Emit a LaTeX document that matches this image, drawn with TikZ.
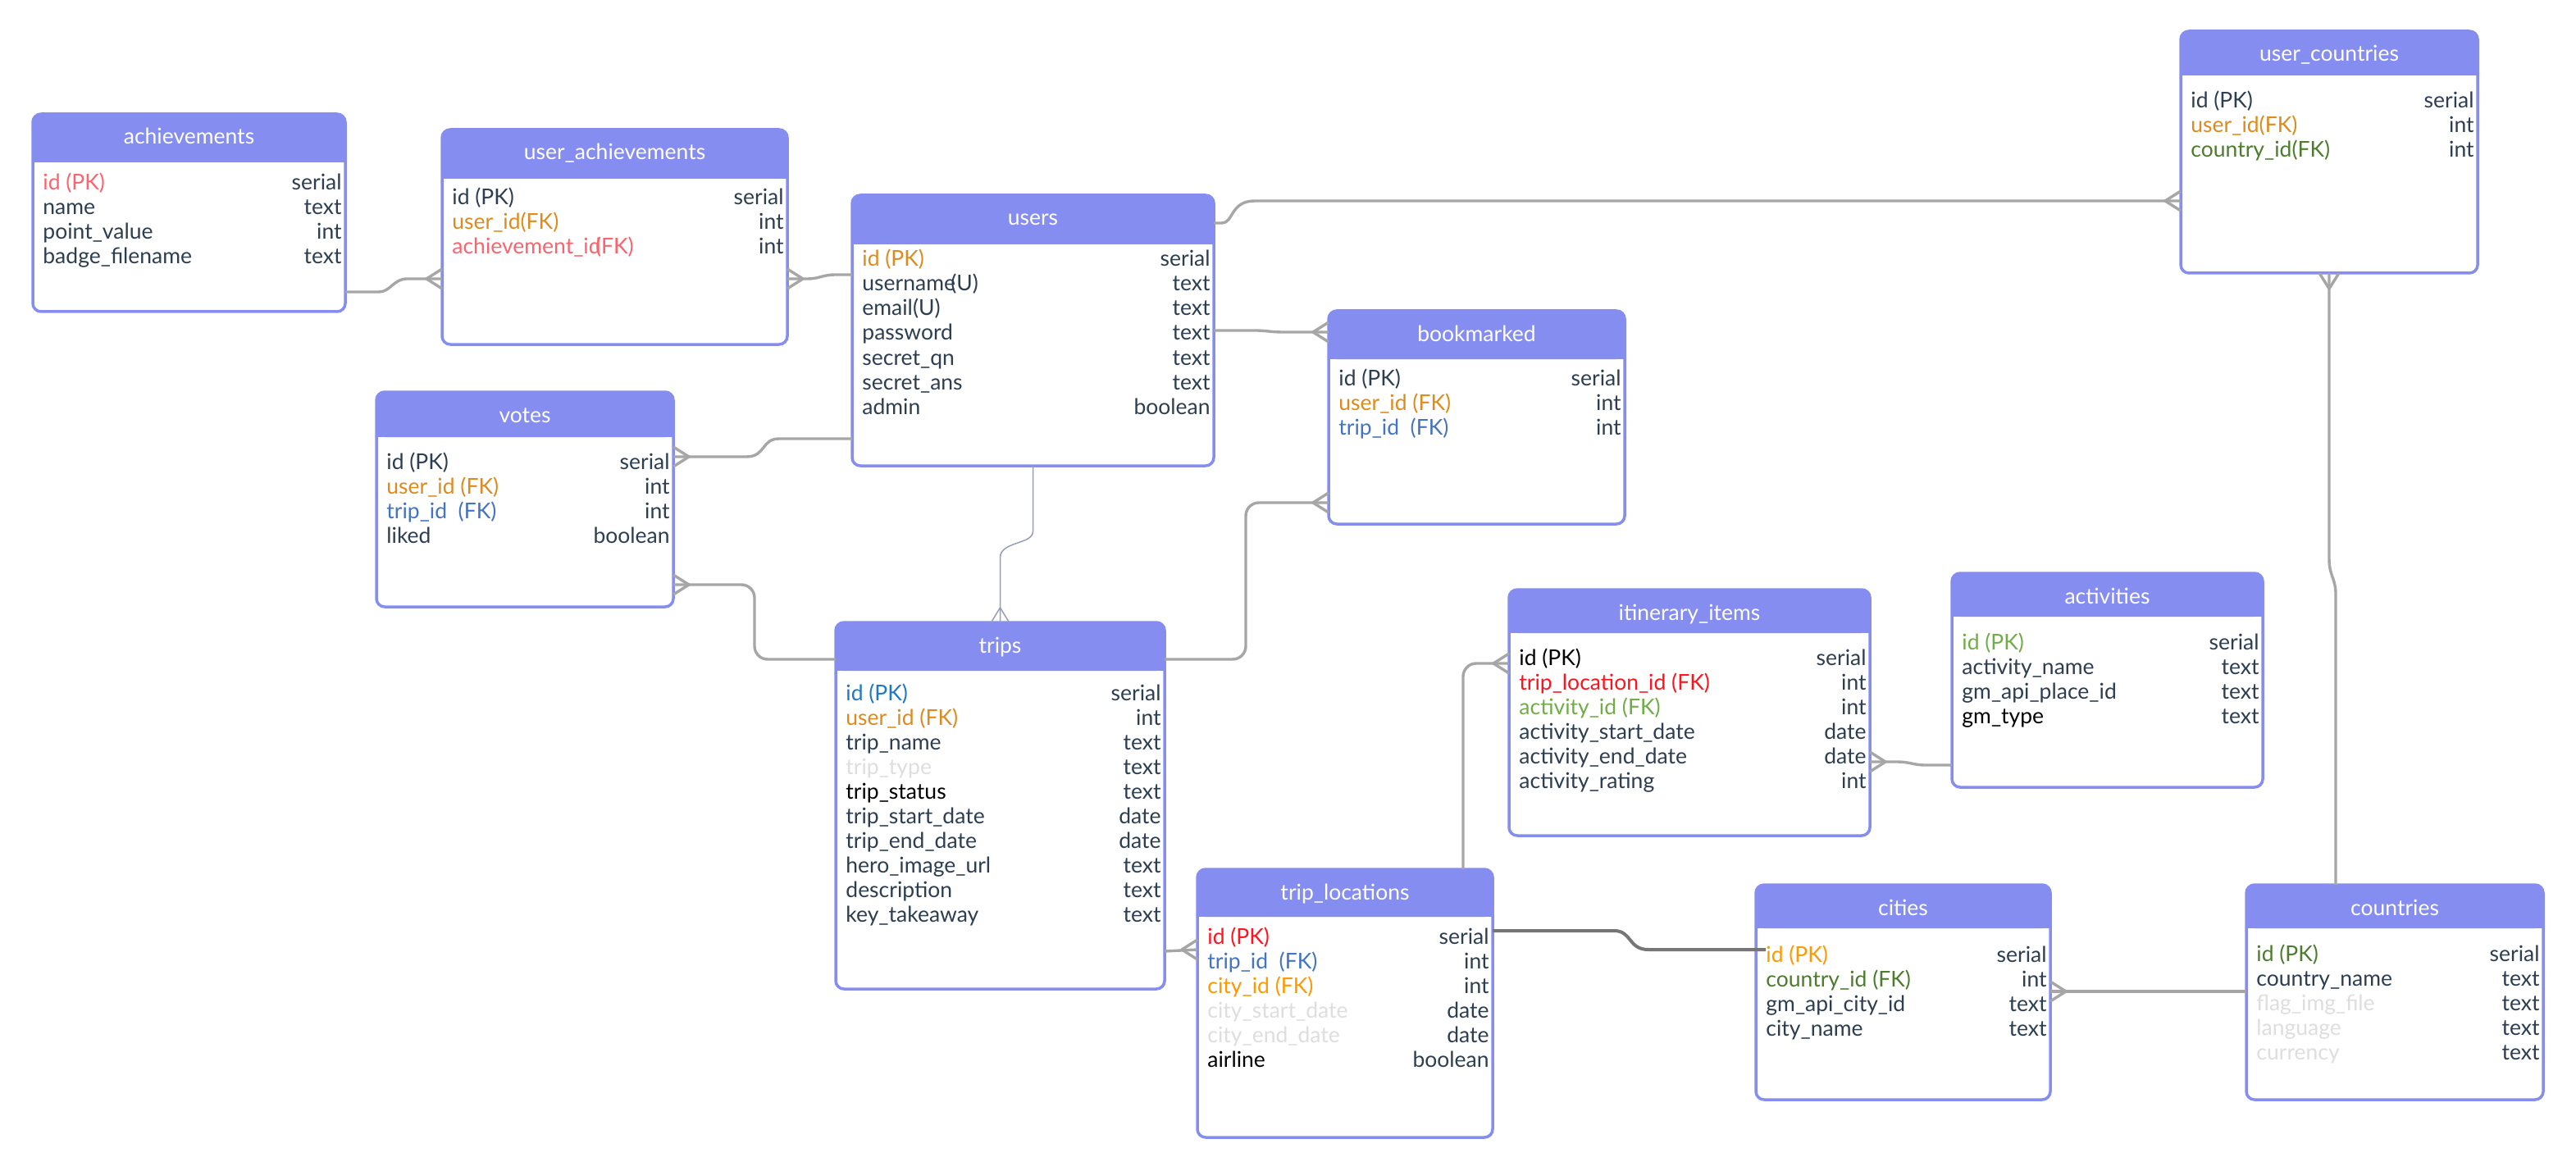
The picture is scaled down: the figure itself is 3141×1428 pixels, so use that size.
\documentclass[tikz,border=0pt]{standalone}
\usepackage{fontspec}
\setmainfont{Lato}
\usetikzlibrary{fit,calc}
\newcommand\fsz{\fontsize{13.25pt}{15pt}\selectfont}
\definecolor{headcol}{RGB}{133,142,240}
\definecolor{dark}{RGB}{44,62,80}
\definecolor{orng}{RGB}{222,139,30}
\definecolor{salmon}{RGB}{250,100,110}
\definecolor{blu}{RGB}{66,115,196}
\definecolor{blutwo}{RGB}{30,120,200}
\definecolor{dkgreen}{RGB}{76,124,46}
\definecolor{ltgreen}{RGB}{112,173,71}
\definecolor{brred}{RGB}{255,20,30}
\definecolor{brorng}{RGB}{255,153,0}
\definecolor{ltgrey}{RGB}{222,222,222}
\definecolor{conncol}{RGB}{166,166,166}
\definecolor{conndark}{RGB}{118,118,118}
\definecolor{thincol}{RGB}{150,158,185}
% #1 name, #2 x1, #3 y1, #4 x2, #5 y2, #6 header height, #7 title, #8 first baseline offset
\newcommand\mktable[8]{%
  \node[tablebox, fit={(#2,#3) (#4,#5)}] (#1) {};
  \fill[headbar, rounded corners=5pt] (#2,#3) rectangle (#4,{#3+#6});
  \fill[headbar] (#2,{#3+#6/2}) rectangle (#4,{#3+#6});
  \node[headtxt] (#1-title) at ({(#2+#4)/2},{#3+37}) {#7};
  \xdef\curtbl{#1}\xdef\curxl{#2}\xdef\curxr{#4}%
  \pgfmathsetmacro\tmpb{#3+#8+2}\xdef\curb{\tmpb}%
}
% #1 index, #2 colour, #3 field, #4 type
\newcommand\mkrow[4]{%
  \node[rowtxt, anchor=base west, text=#2] (\curtbl-n#1) at ({\curxl+12},{\curb+#1*30}) {#3};
  \node[rowtxt, anchor=base east, text=dark] (\curtbl-t#1) at ({\curxr-4},{\curb+#1*30}) {#4};
}
\newcommand\crowW[3][conn]{\draw[#1] ($(#2.west |- 0,#3)+(0,-12)$) -- ++(-19,12) -- ++(19,12);}
\newcommand\crowE[3][conn]{\draw[#1] ($(#2.east |- 0,#3)+(0,-12)$) -- ++(19,12) -- ++(-19,12);}
\newcommand\crowS[3][conn]{\draw[#1] ($(#2.south -| #3,0)+(-12,0)$) -- ++(12,19) -- ++(12,-19);}
\newcommand\crowN[3][conn]{\draw[#1] ($(#2.north -| #3,0)+(-11,0)$) -- ++(11,-18) -- ++(11,18);}
\begin{document}
\begin{tikzpicture}[x=0.5pt,y=-0.5pt,
  tablebox/.style={draw=headcol, line width=1.75pt, fill=white, rounded corners=5pt, inner sep=0pt, outer sep=0pt},
  headbar/.style={fill=headcol},
  headtxt/.style={inner sep=0pt, anchor=base, font=\fsz, text=white},
  rowtxt/.style={inner sep=0pt, font=\fsz},
  conn/.style={draw=conncol, line width=1.7pt, line join=round},
  darkconn/.style={draw=conndark, line width=2pt, line join=round},
  thinconn/.style={draw=thincol, line width=0.75pt, line join=round}]
\fill[white] (0,0) rectangle (3141,1428);
\useasboundingbox (0,0) rectangle (3141,1428);

\mktable{achievements}{40}{139}{421}{380}{59}{achievements}{91}
\mkrow{0}{salmon}{id (PK)}{serial}
\mkrow{1}{dark}{name}{text}
\mkrow{2}{dark}{point\_value}{int}
\mkrow{3}{dark}{badge\_filename}{text}

\mktable{uach}{539}{158}{960}{420}{60}{user\_achievements}{90}
\mkrow{0}{dark}{id (PK)}{serial}
\mkrow{1}{orng}{user\_id(FK)}{int}
\mkrow{2}{salmon}{achievement\_id\kern-0.25em(FK)}{int}

\mktable{users}{1039}{238}{1480}{568}{60}{users}{85}
\mkrow{0}{orng}{id (PK)}{serial}
\mkrow{1}{dark}{username\kern-0.22em(U)}{text}
\mkrow{2}{dark}{email(U)}{text}
\mkrow{3}{dark}{password}{text}
\mkrow{4}{dark}{secret\_qn}{text}
\mkrow{5}{dark}{secret\_ans}{text}
\mkrow{6}{dark}{admin}{boolean}

\mktable{bookmarked}{1620}{379}{1981}{639}{59}{bookmarked}{89}
\mkrow{0}{dark}{id (PK)}{serial}
\mkrow{1}{orng}{user\_id (FK)}{int}
\mkrow{2}{blu}{trip\_id\ \ (FK)}{int}

\mktable{ucountries}{2659}{38}{3021}{333}{54}{user\_countries}{92}
\mkrow{0}{dark}{id (PK)}{serial}
\mkrow{1}{orng}{user\_id(FK)}{int}
\mkrow{2}{dkgreen}{country\_id(FK)}{int}

\mktable{votes}{459}{478}{821}{740}{55}{votes}{92}
\mkrow{0}{dark}{id (PK)}{serial}
\mkrow{1}{orng}{user\_id (FK)}{int}
\mkrow{2}{blu}{trip\_id\ \ (FK)}{int}
\mkrow{3}{dark}{liked}{boolean}

\mktable{trips}{1019}{759}{1420}{1206}{59}{trips}{93}
\mkrow{0}{blutwo}{id (PK)}{serial}
\mkrow{1}{orng}{user\_id (FK)}{int}
\mkrow{2}{dark}{trip\_name}{text}
\mkrow{3}{ltgrey}{trip\_type}{text}
\mkrow{4}{black}{trip\_status}{text}
\mkrow{5}{dark}{trip\_start\_date}{date}
\mkrow{6}{dark}{trip\_end\_date}{date}
\mkrow{7}{dark}{hero\_image\_url}{text}
\mkrow{8}{dark}{description}{text}
\mkrow{9}{dark}{key\_takeaway}{text}

\mktable{itin}{1840}{719}{2280}{1019}{53}{itinerary\_items}{90}
\mkrow{0}{black}{id (PK)}{serial}
\mkrow{1}{brred}{trip\_location\_id (FK)}{int}
\mkrow{2}{ltgreen}{activity\_id (FK)}{int}
\mkrow{3}{dark}{activity\_start\_date}{date}
\mkrow{4}{dark}{activity\_end\_date}{date}
\mkrow{5}{dark}{activity\_rating}{int}

\mktable{activities}{2380}{699}{2759}{960}{53}{activities}{91}
\mkrow{0}{ltgreen}{id (PK)}{serial}
\mkrow{1}{dark}{activity\_name}{text}
\mkrow{2}{dark}{gm\_api\_place\_id}{text}
\mkrow{3}{black}{gm\_type}{text}

\mktable{tloc}{1460}{1060}{1820}{1387}{58}{trip\_locations}{89}
\mkrow{0}{brred}{id (PK)}{serial}
\mkrow{1}{blu}{trip\_id\ \ (FK)}{int}
\mkrow{2}{brorng}{city\_id (FK)}{int}
\mkrow{3}{ltgrey}{city\_start\_date}{date}
\mkrow{4}{ltgrey}{city\_end\_date}{date}
\mkrow{5}{black}{airline}{boolean}

\mktable{cities}{2141}{1079}{2500}{1341}{53}{cities}{92}
\mkrow{0}{brorng}{id (PK)}{serial}
\mkrow{1}{dkgreen}{country\_id (FK)}{int}
\mkrow{2}{dark}{gm\_api\_city\_id}{text}
\mkrow{3}{dark}{city\_name}{text}

\mktable{countries}{2739}{1079}{3101}{1341}{53}{countries}{91}
\mkrow{0}{dkgreen}{id (PK)}{serial}
\mkrow{1}{dark}{country\_name}{text}
\mkrow{2}{ltgrey}{flag\_img\_file}{text}
\mkrow{3}{ltgrey}{language}{text}
\mkrow{4}{ltgrey}{currency}{text}

% connectors
\draw[conn] (achievements.east |- 0,356) -- (462,356) .. controls (476,356) and (480,340) .. (496,340) -- (uach.west |- 0,340);
\crowW{uach}{340}
\draw[conn] (uach.east |- 0,340) -- (985,340) .. controls (998,340) and (1004,335) .. (1018,335) -- (users.west |- 0,335);
\crowE{uach}{340}
\draw[conn] (users.west |- 0,535) -- (950,535) .. controls (928,535) and (934,557) .. (910,557) -- (votes.east |- 0,557);
\crowE{votes}{557}
\draw[conn, rounded corners=8pt] (trips.west |- 0,804) -- (920,804) -- (920,713) -- (votes.east |- 0,713);
\crowE{votes}{713}
\draw[thinconn] (users.south) -- (1259.5,648) .. controls (1259.5,664) and (1219.5,660) .. (1219.5,680) -- (trips.north);
\crowN[thinconn]{trips}{1219.5}
\draw[conn] (users.east |- 0,272) -- (1490,272) .. controls (1504,272) and (1500,245) .. (1530,245) -- (ucountries.west |- 0,245);
\crowW{ucountries}{245}
\draw[conn] (users.east |- 0,403) -- (1530,403) .. controls (1545,403) and (1548,405) .. (1565,405) -- (bookmarked.west |- 0,405);
\crowW{bookmarked}{405}
\draw[conn, rounded corners=8pt] (trips.east |- 0,804) -- (1519,804) -- (1519,613) -- (bookmarked.west |- 0,613);
\crowW{bookmarked}{613}
\draw[conn] (trips.east |- 0,1160) -- (tloc.west |- 0,1158);
\crowW{tloc}{1158}
\draw[conn, rounded corners=8pt] (tloc.north -| 1784,0) -- (1784,809) -- (itin.west |- 0,809);
\crowW{itin}{809}
\draw[conn] (activities.west |- 0,933) -- (2348,933) .. controls (2332,933) and (2330,929) .. (2312,929) -- (itin.east |- 0,929);
\crowE{itin}{929}
\draw[darkconn] (tloc.east |- 0,1135) -- (1968,1135) .. controls (1990,1135) and (1985,1158) .. (2010,1158) -- ($(cities.west |- 0,1158)+(12,0)$);
\draw[conn] (countries.west |- 0,1209) -- (cities.east |- 0,1209);
\crowE{cities}{1209}
\draw[conn] (countries.north -| 2848,0) -- (2848,725) .. controls (2848,705) and (2840,702) .. (2840,682) -- (ucountries.south);
\crowS{ucountries}{2840}
\end{tikzpicture}
\end{document}
